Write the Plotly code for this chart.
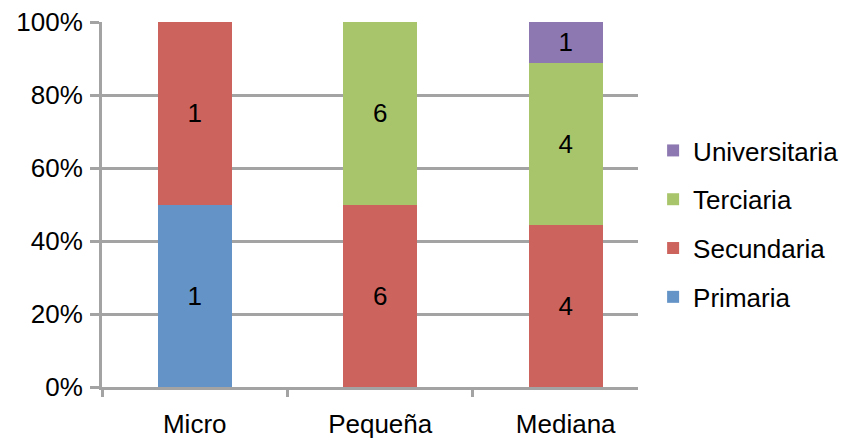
import plotly.graph_objects as go

# Nivel educativo por tamaño de empresa (cantidad de casos)
categorias = ["Micro", "Pequeña", "Mediana"]
primaria = [1, 0, 0]
secundaria = [1, 6, 4]
terciaria = [0, 6, 4]
universitaria = [0, 0, 1]

series = [
    ("Primaria", primaria, "#6393C7"),
    ("Secundaria", secundaria, "#CD635D"),
    ("Terciaria", terciaria, "#A9C56B"),
    ("Universitaria", universitaria, "#8E78B1"),
]

FONT = "Liberation Sans, Arial, Helvetica, sans-serif"
GRID = "#A3A3A3"
FS = 26

fig = go.Figure()
for i, (nombre, valores, color) in enumerate(series):
    fig.add_trace(go.Bar(
        name=nombre,
        x=categorias,
        y=valores,
        marker=dict(color=color, line=dict(width=0)),
        text=[str(v) if v else "" for v in valores],
        textposition="inside",
        insidetextanchor="middle",
        textangle=0,
        textfont=dict(family=FONT, size=FS, color="black"),
        legendgroup=nombre,
        legendrank=len(series) - i,
        width=0.40,
    ))

fig.update_layout(
    barmode="stack",
    barnorm="percent",
    width=846,
    height=441,
    margin=dict(l=102, r=208, t=22, b=54),
    paper_bgcolor="white",
    plot_bgcolor="white",
    font=dict(family=FONT, size=FS, color="black"),
    uniformtext=dict(mode=False),
    legend=dict(
        xref="container", yref="container",
        x=0.772, y=0.492, xanchor="left", yanchor="middle",
        traceorder="grouped",
        tracegroupgap=12,
        font=dict(family=FONT, size=FS, color="black"),
        itemwidth=30,
        bgcolor="rgba(0,0,0,0)",
    ),
    xaxis=dict(
        range=[-0.5, 2.39],
        showgrid=False,
        showline=True, linecolor=GRID, linewidth=3,
        ticks="outside", tickson="boundaries", ticklen=7, tickwidth=2.5, tickcolor=GRID,
        tickfont=dict(family=FONT, size=FS, color="black"),
        ticklabelstandoff=12,
        automargin=False,
        zeroline=False,
    ),
    yaxis=dict(
        range=[0, 100],
        tickvals=[0, 20, 40, 60, 80, 100],
        ticktext=["0%", "20%", "40%", "60%", "80%", "100%"],
        showgrid=True, gridcolor=GRID, gridwidth=3,
        showline=True, linecolor=GRID, linewidth=3,
        ticks="outside", ticklen=9, tickwidth=3, tickcolor=GRID,
        tickfont=dict(family=FONT, size=FS, color="black"),
        ticklabelstandoff=2,
        automargin=False,
        zeroline=False,
    ),
)

fig.write_html("out.html")
